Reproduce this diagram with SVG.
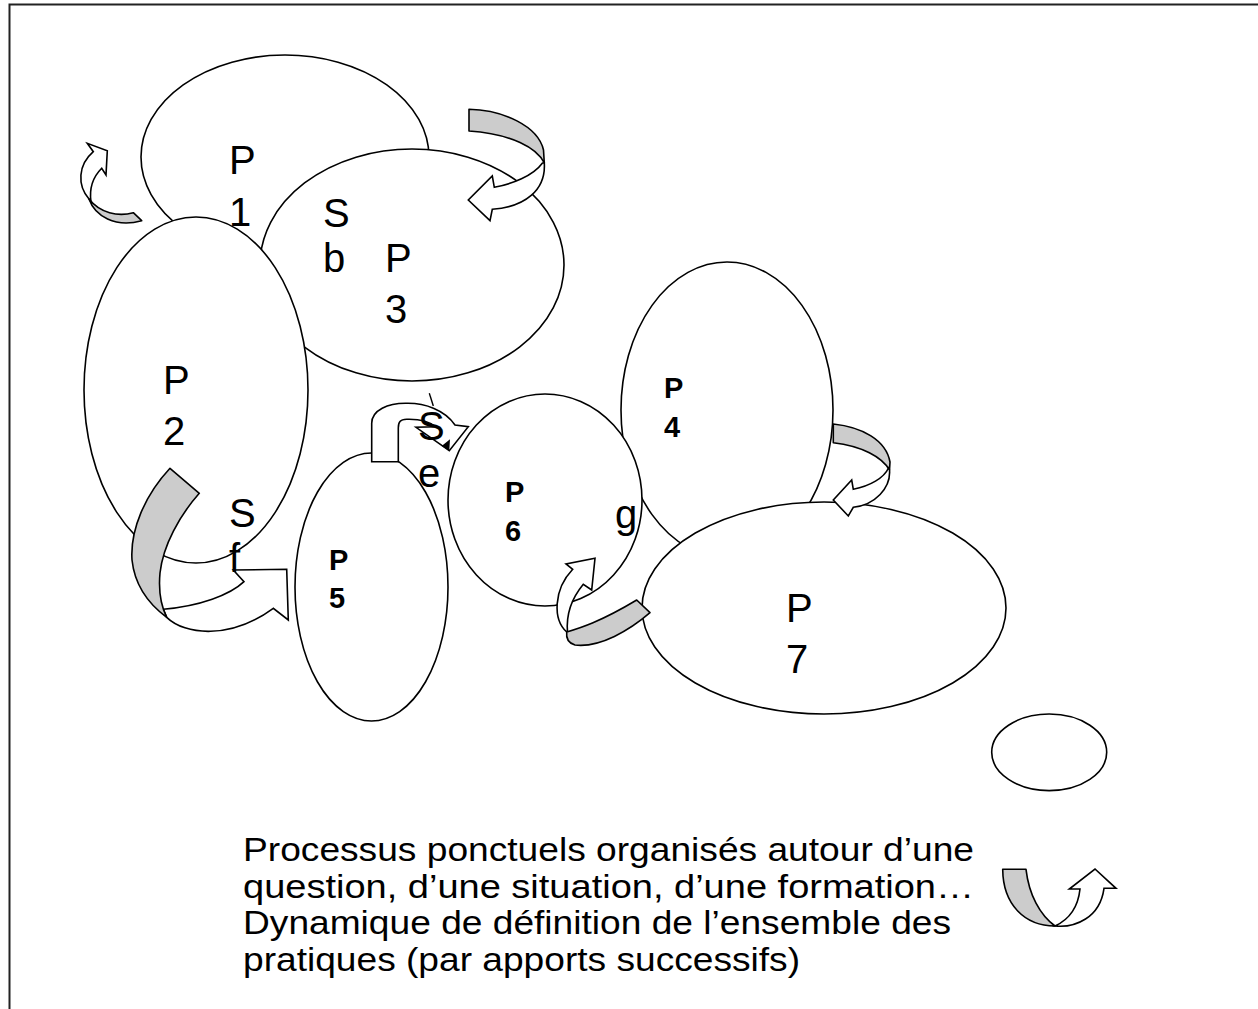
<svg xmlns="http://www.w3.org/2000/svg" width="1258" height="1009" viewBox="0 0 1258 1009">
<style>
.el{fill:#fff;stroke:#000;stroke-width:1.6}
.gr{fill:#cccccc;stroke:#000;stroke-width:1.6;stroke-linejoin:round}
.wh{fill:#fff;stroke:#000;stroke-width:1.6;stroke-linejoin:miter}
.t{font-family:"Liberation Sans",Arial,sans-serif;font-size:40px;fill:#000}
.b{font-family:"Liberation Sans",Arial,sans-serif;font-size:29px;font-weight:bold;fill:#000}
.lg{font-family:"Liberation Sans",Arial,sans-serif;font-size:34px;fill:#000}
</style>
<rect width="1258" height="1009" fill="#fff"/>
<path d="M9.5,1009 V4.5 H1258" fill="none" stroke="#222" stroke-width="2"/>

<g id="P1"><ellipse class="el" cx="285" cy="157" rx="144" ry="102"/>
<text class="t" x="229" y="174">P</text><text class="t" x="229" y="226">1</text></g>
<g id="P3"><ellipse class="el" cx="412" cy="265" rx="152" ry="116"/>
<text class="t" x="323" y="227">S</text><text class="t" x="323" y="272">b</text>
<text class="t" x="385" y="272">P</text><text class="t" x="385" y="323">3</text></g>
<g id="P2"><ellipse class="el" cx="196" cy="390" rx="112" ry="173"/>
<text class="t" x="163" y="394">P</text><text class="t" x="163" y="445">2</text></g>
<g id="P4"><ellipse class="el" cx="727" cy="410" rx="106" ry="148"/>
<text class="b" x="664" y="398">P</text><text class="b" x="664" y="437">4</text></g>
<g id="P6"><ellipse class="el" cx="545" cy="500" rx="97" ry="106"/>
<text class="b" x="505" y="502">P</text><text class="b" x="505" y="541">6</text>
<text class="t" x="615" y="528">g</text></g>
<g id="P7"><ellipse class="el" cx="824" cy="608" rx="182" ry="106"/>
<text class="t" x="786" y="622">P</text><text class="t" x="786" y="673">7</text></g>
<g id="P5"><ellipse class="el" cx="371.5" cy="587" rx="76.5" ry="134"/>
<text class="b" x="329" y="570">P</text><text class="b" x="329" y="608">5</text></g>

<g id="connectors">
<g id="a1">
<path class="wh" d="M89,199 C77,185 78,165 93.3,151.7 L87.3,143.3 L107.3,150.7 L106,175 L101.7,168.3 C94,176 89,188 91,202 Z"/>
<path class="gr" d="M133.3,212.7 C118,217 100,213 89,199 C95,216 115,228 141.7,220.7 Z"/>
</g>
<g id="a2">
<path class="gr" d="M469,109.3 C503,110 538,126 543.5,150 L544.3,163 C537,148 512,134 469,131 Z"/>
<path class="wh" d="M544.3,163 C546,190 525,207 492.3,209.3 L490,220.7 L468.3,200 L492.3,176 L494.3,187.3 C512,184 533,176 542.5,163 Z"/>
</g>
<g id="a3">
<path class="wh" d="M371.7,461.7 L371.7,423.3 C371.7,410 388,403 406.7,403.3 C425,403 445,410 455,425 L468.3,426.7 L449.3,450.7 L416,427.3 L435,426.7 C428,420 418,419 406.7,419.3 C400,419.5 398.3,422 398.3,428 L398.3,461.7 Z"/>
<path d="M429.3,393.3 L433.3,406" stroke="#000" stroke-width="1.4"/>
<path d="M441.7,446 L450,439.3 L449.3,450.7 Z" fill="#000"/>
</g>
<g id="a4">
<path class="wh" d="M166.7,617.3 C185,635 230,640 273.3,608.3 L288.3,620 L286.7,569.3 L233.3,570 L244,581.7 C230,595 200,606 163.3,609.3 Z"/>
<path class="gr" d="M170,468.3 L199.3,493.3 C180,515 163,545 160,573 C158,595 162,608 166.7,617.3 C150,605 135,588 132,560 C130,530 145,495 170,468.3 Z"/>
</g>
<g id="a5">
<path class="wh" d="M566.7,632 C553,620 553,590 572.7,569.3 L566,564 L595,558.3 L591.7,590 L583.3,584.3 C572,598 566,615 567.5,632 Z"/>
<path class="gr" d="M636.7,600 L650,612.7 C630,630 600,648 575,645 C568,643 566,638 566.7,632 C580,628 600,622 636.7,600 Z"/>
</g>
<g id="a6">
<path class="gr" d="M833.3,424 C862,427 886,440 890,462 L889.5,470 C882,457 862,446 833.3,442.7 Z"/>
<path class="wh" d="M889.5,470 C891,488 875,505 853.3,507.3 L848.3,516 L833.3,500 L851.7,480 L853.3,489.3 C870,486 884,478 888.5,468 Z"/>
</g>
</g>
<text class="t" x="229" y="527">S</text><text class="t" x="229" y="572">f</text>
<text class="t" x="418" y="440">S</text><text class="t" x="418" y="487">e</text>

<g id="legend">
<ellipse class="el" cx="1049.2" cy="752.3" rx="57.5" ry="38.3"/>
<path class="gr" d="M1002.7,869.3 L1026,869.3 C1029,895 1040,915 1055,926 C1025,926 1003,905 1002.7,869.3 Z"/>
<path class="wh" d="M1055,926 C1075,928 1100,918 1104,888.3 L1116,888.3 L1095,869 L1069.3,889 L1080,889 C1078,908 1068,920 1055,926 Z"/>
<text class="lg" x="243" y="861" textLength="731" lengthAdjust="spacingAndGlyphs">Processus ponctuels organisés autour d’une</text>
<text class="lg" x="243" y="898" textLength="731" lengthAdjust="spacingAndGlyphs">question, d’une situation, d’une formation…</text>
<text class="lg" x="243" y="934" textLength="708" lengthAdjust="spacingAndGlyphs">Dynamique de définition de l’ensemble des</text>
<text class="lg" x="243" y="971" textLength="557" lengthAdjust="spacingAndGlyphs">pratiques (par apports successifs)</text>
</g>
</svg>
